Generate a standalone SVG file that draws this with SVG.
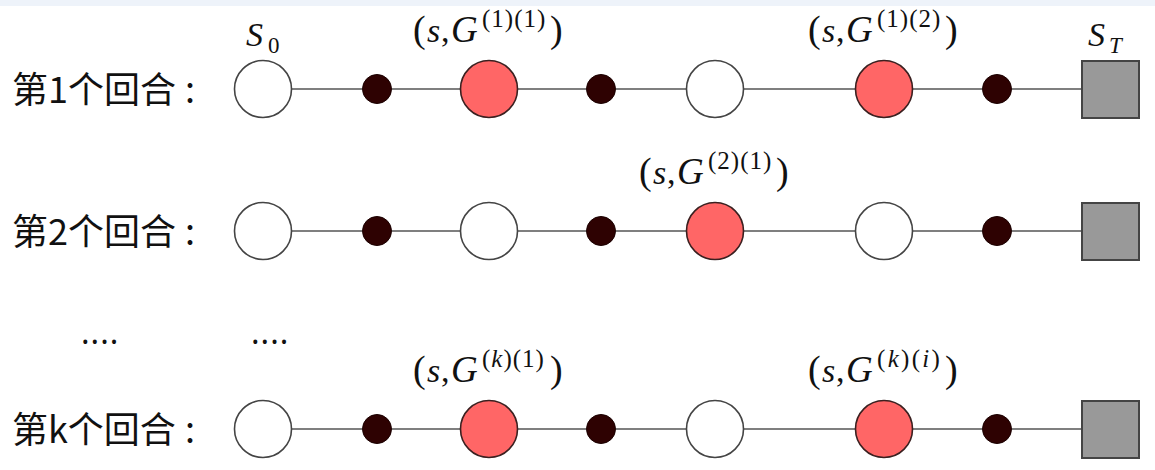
<svg xmlns="http://www.w3.org/2000/svg" width="1155" height="470" viewBox="0 0 1155 470">
<defs>
<style>
.bg{fill:#ffffff}
.band{fill:#eef3fa}
.edge{stroke:#555555;stroke-width:1.6;fill:none}
.st{fill:#ffffff;stroke:#444444;stroke-width:1.6}
.rd{fill:#ff6666;stroke:#3a2020;stroke-width:1.6}
.dt{fill:#2e0202;stroke:#1a0000;stroke-width:1}
.term{fill:#999999;stroke:#444444;stroke-width:2}
.lab{font-family:"Noto Sans CJK SC","Noto Sans",sans-serif;font-size:36px;fill:#111111}
.dots{font-family:"Noto Sans","DejaVu Sans",sans-serif;font-size:32px;fill:#111111;letter-spacing:1px}
.m{font-family:"Liberation Serif","Times New Roman",serif;fill:#111111}
.it{font-style:italic}
.p{font-size:38px}
.v{font-size:34px}
.g{font-size:37px}
.sp{font-size:25px;letter-spacing:1px}
.sw{letter-spacing:2.3px}
.sb{font-size:23px}
</style>
</defs>
<rect class="bg" x="0" y="0" width="1155" height="470"/>
<rect class="band" x="0" y="0" width="1155" height="6"/>

<!-- row labels -->
<g id="labels">
<text class="lab" x="12" y="103">第1个回合<tspan x="185">:</tspan></text>
<text class="lab" x="12" y="245">第2个回合<tspan x="185">:</tspan></text>
<text class="lab" x="12" y="443">第k个回合<tspan x="185">:</tspan></text>
<text class="dots" x="81" y="344">....</text>
<text class="dots" x="251" y="344">....</text>
</g>

<!-- connectors -->
<g id="connectors">
<path class="edge" d="M291.5 89H362M392 89H460.5M517.5 89H586M616 89H686.5M743.5 89H855.5M912.5 89H982M1012 89H1082"/>
<path class="edge" d="M291.5 231H362M392 231H460.5M517.5 231H586M616 231H686.5M743.5 231H855.5M912.5 231H982M1012 231H1082"/>
<path class="edge" d="M291.5 429H362M392 429H460.5M517.5 429H586M616 429H686.5M743.5 429H855.5M912.5 429H982M1012 429H1082"/>
</g>

<!-- row 1 -->
<g id="r1n1"><circle class="st" cx="263" cy="89" r="28.5"/></g>
<g id="r1d1"><circle class="dt" cx="377" cy="89" r="14.5"/></g>
<g id="r1n2"><circle class="rd" cx="489" cy="89" r="28.5"/></g>
<g id="r1d2"><circle class="dt" cx="601" cy="89" r="14.5"/></g>
<g id="r1n3"><circle class="st" cx="715" cy="89" r="28.5"/></g>
<g id="r1n4"><circle class="rd" cx="884" cy="89" r="28.5"/></g>
<g id="r1d3"><circle class="dt" cx="997" cy="89" r="14.5"/></g>
<g id="r1t"><rect class="term" x="1082" y="61" width="57" height="57"/></g>

<!-- row 2 -->
<g id="r2n1"><circle class="st" cx="263" cy="231" r="28.5"/></g>
<g id="r2d1"><circle class="dt" cx="377" cy="231" r="14.5"/></g>
<g id="r2n2"><circle class="st" cx="489" cy="231" r="28.5"/></g>
<g id="r2d2"><circle class="dt" cx="601" cy="231" r="14.5"/></g>
<g id="r2n3"><circle class="rd" cx="715" cy="231" r="28.5"/></g>
<g id="r2n4"><circle class="st" cx="884" cy="231" r="28.5"/></g>
<g id="r2d3"><circle class="dt" cx="997" cy="231" r="14.5"/></g>
<g id="r2t"><rect class="term" x="1082" y="203" width="57" height="57"/></g>

<!-- row k -->
<g id="rkn1"><circle class="st" cx="263" cy="429" r="28.5"/></g>
<g id="rkd1"><circle class="dt" cx="377" cy="429" r="14.5"/></g>
<g id="rkn2"><circle class="rd" cx="489" cy="429" r="28.5"/></g>
<g id="rkd2"><circle class="dt" cx="601" cy="429" r="14.5"/></g>
<g id="rkn3"><circle class="st" cx="715" cy="429" r="28.5"/></g>
<g id="rkn4"><circle class="rd" cx="884" cy="429" r="28.5"/></g>
<g id="rkd3"><circle class="dt" cx="997" cy="429" r="14.5"/></g>
<g id="rkt"><rect class="term" x="1082" y="401" width="57" height="57"/></g>

<!-- math labels -->
<g id="math">
<text class="m"><tspan class="it v" x="246" y="46">S</tspan><tspan class="sb" x="268" y="53">0</tspan></text>
<text class="m"><tspan class="it v" x="1088" y="46">S</tspan><tspan class="it sb" x="1109" y="53">T</tspan></text>

<text class="m"><tspan class="p" x="413" y="42">(</tspan><tspan class="it v" x="427" y="42">s</tspan><tspan class="v" x="441" y="42">,</tspan><tspan class="it g" x="451" y="42">G</tspan><tspan class="sp" x="482" y="27">(1)(1)</tspan><tspan class="p" x="550" y="42">)</tspan></text>

<text class="m"><tspan class="p" x="808" y="42">(</tspan><tspan class="it v" x="822" y="42">s</tspan><tspan class="v" x="836" y="42">,</tspan><tspan class="it g" x="846" y="42">G</tspan><tspan class="sp" x="877" y="27">(1)(2)</tspan><tspan class="p" x="945" y="42">)</tspan></text>

<text class="m"><tspan class="p" x="639" y="184">(</tspan><tspan class="it v" x="653" y="184">s</tspan><tspan class="v" x="667" y="184">,</tspan><tspan class="it g" x="677" y="184">G</tspan><tspan class="sp" x="708" y="169">(2)(1)</tspan><tspan class="p" x="776" y="184">)</tspan></text>

<text class="m"><tspan class="p" x="413" y="382">(</tspan><tspan class="it v" x="427" y="382">s</tspan><tspan class="v" x="441" y="382">,</tspan><tspan class="it g" x="451" y="382">G</tspan><tspan class="sp" x="482" y="367">(<tspan class="it">k</tspan>)(1)</tspan><tspan class="p" x="550" y="382">)</tspan></text>

<text class="m"><tspan class="p" x="808" y="382">(</tspan><tspan class="it v" x="822" y="382">s</tspan><tspan class="v" x="836" y="382">,</tspan><tspan class="it g" x="846" y="382">G</tspan><tspan class="sp sw" x="877" y="367">(<tspan class="it">k</tspan>)(<tspan class="it">i</tspan>)</tspan><tspan class="p" x="945" y="382">)</tspan></text>
</g>
</svg>
